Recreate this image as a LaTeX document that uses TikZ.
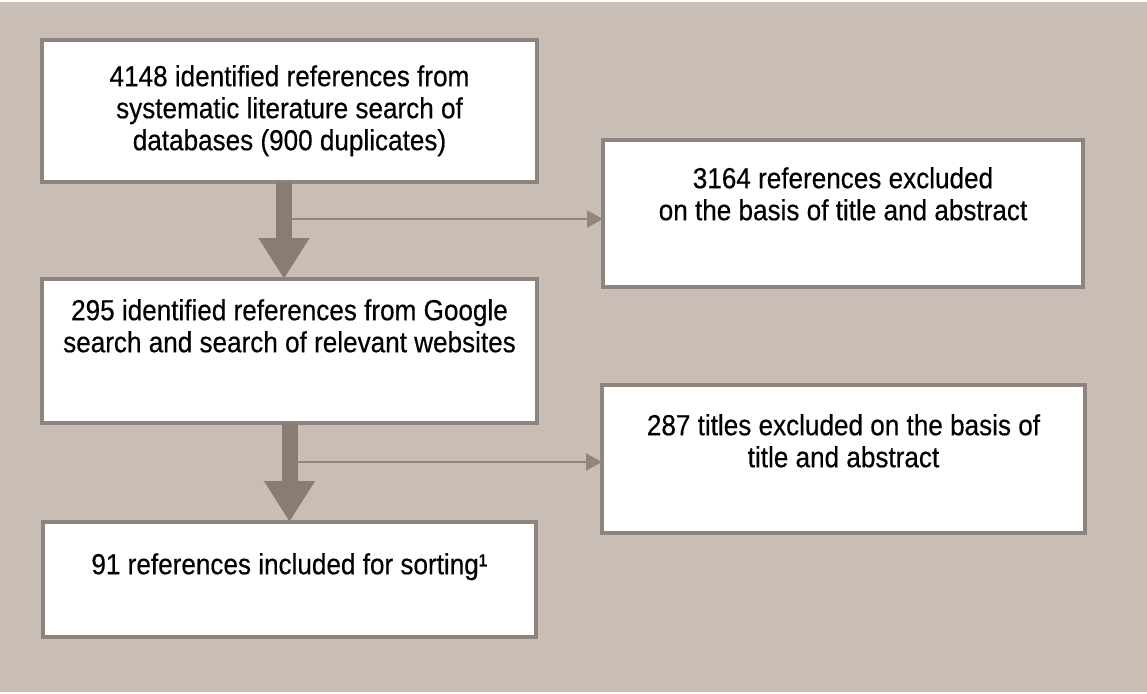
\documentclass[tikz,border=0pt]{standalone}
\usepackage{fontspec}
\setmainfont{Liberation Sans}[FakeStretch=0.9,FakeBold=0.4]
\usetikzlibrary{arrows.meta}
\definecolor{sand}{RGB}{201,190,182}
\definecolor{frame}{RGB}{143,132,125}
\definecolor{shaft}{RGB}{138,124,116}
\definecolor{pointer}{RGB}{145,133,125}
\begin{document}
\begin{tikzpicture}[x=1pt,y=-1pt,
    stage/.style={draw=frame,fill=white,line width=3.5pt,inner sep=0pt,outer sep=0pt},
    words/.style={align=center,inner sep=0pt,anchor=north,font=\fontsize{29}{32}\selectfont},
    down/.style={shaft,line width=16pt,-{Triangle[length=41pt,width=48pt]}},
    side/.style={pointer,line width=2.3pt,-{Triangle[length=16pt,width=17pt]}}]
  \useasboundingbox (0,0) rectangle (1147,693);
  \fill[sand] (0,2) rectangle (1147,692);
  % left column
  \node[stage,minimum width=495pt,minimum height=142pt] (found) at (289.5,111) {};
  \node[stage,minimum width=495pt,minimum height=144pt] (google) at (289.5,351) {};
  \node[stage,minimum width=493pt,minimum height=115pt] (kept) at (289.5,579.5) {};
  % right column
  \node[stage,minimum width=480pt,minimum height=147pt] (outone) at (843,213.5) {};
  \node[stage,minimum width=483pt,minimum height=148pt] (outtwo) at (843.5,459) {};
  \node[words] (foundtxt) at ([yshift=-25pt]found.north) {4148 identified references from\\systematic literature search of\\databases (900 duplicates)};
  \node[words] (googletxt) at ([yshift=-20pt]google.north) {295 identified references from Google\\search and search of relevant websites};
  \node[words] (kepttxt) at ([yshift=-31pt]kept.north) {91 references included for sorting¹};
  \node[words] (outonetxt) at ([yshift=-27pt]outone.north) {3164 references excluded\\on the basis of title and abstract};
  \node[words] (outtwotxt) at ([yshift=-29pt]outtwo.north) {287 titles excluded on the basis of\\title and abstract};
  \coordinate (fork1) at (284,219);
  \coordinate (fork2) at (290,462);
  \foreach \f/\b in {fork1/outone,fork2/outtwo}
    \draw[side] (\f) -- (\f -| \b.west);
  \draw[down] ([xshift=-5.5pt]found.south) -- ([xshift=-5.5pt]google.north);
  \draw[down] (google.south) -- (kept.north);
\end{tikzpicture}
\end{document}
